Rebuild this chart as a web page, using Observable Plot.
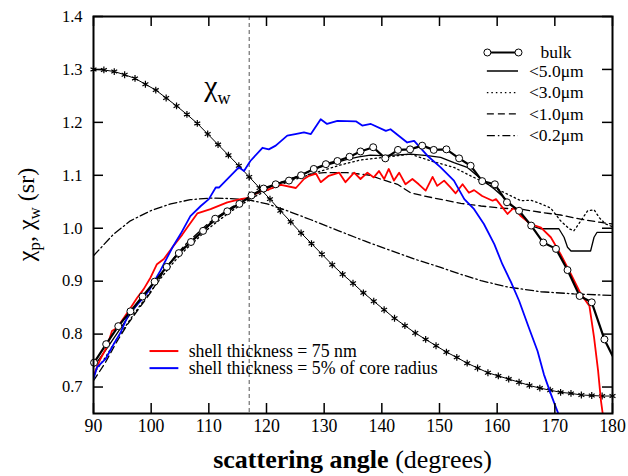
<!DOCTYPE html>
<html><head><meta charset="utf-8">
<script src="https://cdn.jsdelivr.net/npm/d3@7"></script>
<script src="https://cdn.jsdelivr.net/npm/@observablehq/plot@0.6"></script>
<style>
html,body{margin:0;padding:0;background:#fff;}
#chart{width:628px;height:476px;}
#chart svg, #chart svg text{font-family:"Liberation Serif","Times New Roman",serif !important;}
</style>
</head><body><div id="chart"></div>
<script>
// ---------- tick labels ----------
const xTicks = [90, 100, 110, 120, 130, 140, 150, 160, 170, 180];
const yTicks = [0.7, 0.8, 0.9, 1.0, 1.1, 1.2, 1.3, 1.4];

// ---------- chi_w (line with asterisks) ----------
const wAngles = [90,91.8,93.6,95.4,97.2,99,100.8,102.6,104.4,106.2,108,109.8,111.6,113.4,115.2,117,118.8,120.6,122.4,124.2,126,127.8,129.6,131.4,133.2,135,136.8,138.6,140.4,142.2,144,145.8,147.6,149.4,151.2,153,154.8,156.6,158.4,160.2,162,163.8,165.6,167.4,169.2,171,172.8,174.6,176.4,178.2,180];
const wValues = [1.300,1.299,1.296,1.290,1.283,1.272,1.261,1.246,1.231,1.215,1.198,1.178,1.158,1.138,1.118,1.097,1.076,1.055,1.033,1.012,0.991,0.971,0.951,0.931,0.913,0.896,0.878,0.862,0.846,0.830,0.816,0.802,0.790,0.778,0.766,0.756,0.745,0.736,0.727,0.721,0.715,0.709,0.703,0.698,0.694,0.690,0.688,0.685,0.684,0.683,0.683];

// ---------- bulk (thick line with open circles) ----------
const bulkAngles = [90.1,92.2,94.3,96.4,98.5,100.6,102.7,104.8,106.9,109,111.1,113.2,115.3,117.4,119.5,121.6,123.9,126,128.2,130.3,132.3,134.4,136.3,138.5,140.6,142.8,144.9,147,149,151.2,153.4,155.4,157.4,159.6,161.7,163.8,165.9,168,170.2,172.2,174.3,176.4,178.6];
const bulkValues = [0.746,0.781,0.815,0.843,0.871,0.899,0.927,0.953,0.974,0.995,1.018,1.032,1.046,1.062,1.075,1.083,1.090,1.100,1.112,1.121,1.127,1.135,1.145,1.153,1.132,1.148,1.149,1.156,1.148,1.149,1.132,1.118,1.089,1.083,1.049,1.033,1.005,0.973,0.961,0.921,0.872,0.860,0.790];
const bulkTailAngles = [178.6, 180];
const bulkTailValues = [0.790, 0.759];

// ---------- < 5.0 um (solid) ----------
const s5Angles = [90,92,94,96,98,100,102,104,106,108,110,112,114,116,118,120,122,124,126,128,130,132,134,136,138,140,142,145,147.9,150.2,152.5,154.8,157.2,159.5,161.8,164.1,165.8,167.6,170.7,171.6,172.2,172.8,176.2,176.8,177.3,180];
const s5Values = [0.738,0.768,0.800,0.832,0.862,0.890,0.918,0.944,0.966,0.986,1.005,1.022,1.038,1.051,1.064,1.075,1.084,1.093,1.101,1.110,1.118,1.124,1.130,1.135,1.138,1.137,1.138,1.140,1.137,1.134,1.124,1.115,1.093,1.074,1.052,1.027,1.005,0.999,0.999,0.983,0.964,0.957,0.957,0.983,0.992,0.992];

// ---------- < 3.0 um (dotted) ----------
const s3Angles = [90,92,94,96,98,100,102,104,106,108,110,112,114,116,118,120,122,124,126,128,130,133,136.3,140.4,145,148.5,152.5,155.4,157.7,160,162.4,164.1,165.8,167.6,169.3,171,172.5,173.3,174.5,175.7,176.8,177.7,178.8,180];
const s3Values = [0.725,0.755,0.790,0.822,0.853,0.882,0.910,0.937,0.960,0.980,1.000,1.017,1.033,1.047,1.060,1.071,1.080,1.089,1.096,1.103,1.110,1.120,1.129,1.134,1.140,1.127,1.115,1.099,1.087,1.074,1.061,1.052,1.053,1.046,1.038,1.014,0.999,0.995,1.014,1.033,1.035,1.020,1.008,1.003];

// ---------- < 1.0 um (dashed) ----------
const s1Angles = [90,92,94,96,98,100,102,104,106,108,110,112,114,116,118,120,122,124,126,130,134,138,140,142.7,145,147.3,150,153.7,157.2,160.6,164.1,167.6,171,174.5,178,180];
const s1Values = [0.712,0.745,0.785,0.820,0.850,0.880,0.915,0.945,0.970,0.990,1.010,1.025,1.040,1.052,1.063,1.075,1.085,1.093,1.100,1.105,1.105,1.100,1.092,1.083,1.067,1.061,1.055,1.047,1.042,1.038,1.036,1.030,1.025,1.017,1.011,1.008];

// ---------- < 0.2 um (dash-dot) ----------
const s02Angles = [90,93.5,96.4,99.9,103.4,106.8,110.3,113.8,116.7,120.1,123.6,127.7,132.3,137,141.5,145.6,150.2,153.7,157.2,161.8,167.6,173.3,180];
const s02Values = [0.948,0.989,1.014,1.033,1.046,1.054,1.057,1.056,1.054,1.046,1.033,1.016,0.996,0.976,0.958,0.942,0.926,0.913,0.901,0.889,0.880,0.876,0.873];

// ---------- shell thickness = 75 nm (red) ----------
const redAngles = [90,90.5,91.2,92.4,93.2,94.1,96.1,97.6,98.7,99.9,101,102.2,103.9,105.4,106.5,108,110.3,113.2,115.5,117.1,118.9,120.1,121,122.5,125.1,126.5,127.4,128.6,129.4,130.8,132.6,133.7,135.2,136.3,137.5,138.6,139.5,140.4,141.2,142.1,143,144.1,145.3,146.4,147.6,148.8,149.6,150.8,151.9,152.8,154,155.1,156,157.4,159.2,159.8,161.8,162.9,164.1,165.8,167.6,169.3,171,172.8,174.5,176,176.8,177.5,178,178.3];
const redValues = [0.720,0.735,0.753,0.778,0.806,0.812,0.844,0.869,0.885,0.907,0.932,0.942,0.967,0.988,1.005,1.028,1.036,1.049,1.055,1.058,1.071,1.072,1.076,1.082,1.076,1.093,1.099,1.103,1.087,1.099,1.105,1.087,1.105,1.093,1.105,1.096,1.108,1.093,1.112,1.090,1.105,1.083,1.093,1.083,1.071,1.097,1.080,1.090,1.077,1.066,1.083,1.067,1.072,1.061,1.052,1.055,1.027,1.039,1.023,1.008,1.001,0.983,0.951,0.913,0.876,0.853,0.794,0.731,0.674,0.650];

// ---------- shell thickness = 5% of core radius (blue) ----------
const blueAngles = [90,90.6,92.1,93.5,94.7,96.1,98.2,99.6,101.6,103.7,105.1,106.8,108.6,110,111.2,111.8,113.5,115.2,116.1,117.2,119.3,120.4,121.6,123.6,125,126.5,127.7,129.4,130.5,132.3,135.5,136.6,138.1,140.7,141.5,144.4,145.6,147.9,150.2,152.5,154.3,156,157.7,159.5,160.9,162.4,163.8,165.5,167,168.1,169.3,170.2,170.6];
const blueValues = [0.715,0.737,0.753,0.781,0.803,0.838,0.863,0.882,0.920,0.964,0.989,1.023,1.042,1.055,1.077,1.077,1.096,1.115,1.108,1.127,1.152,1.149,1.156,1.175,1.178,1.181,1.178,1.206,1.197,1.203,1.202,1.194,1.197,1.184,1.187,1.162,1.165,1.137,1.115,1.090,1.055,1.036,1.008,0.970,0.932,0.898,0.863,0.812,0.768,0.724,0.687,0.661,0.650];

// ---------- legend texts ----------
const legendNames = ["bulk", "<5.0\u03bcm", "<3.0\u03bcm", "<1.0\u03bcm", "<0.2\u03bcm"];
const shellNames = ["shell thickness = 75 nm", "shell thickness = 5% of core radius"];
const markerAngle = 117;

// ---------- build tables ----------
const zip = (a, v) => a.map((x, i) => ({a: x, v: v[i]}));
const wData = zip(wAngles, wValues);
const bulkData = zip(bulkAngles, bulkValues);
const bulkTail = zip(bulkTailAngles, bulkTailValues);
const s5 = zip(s5Angles, s5Values);
const s3 = zip(s3Angles, s3Values);
const s1 = zip(s1Angles, s1Values);
const s02 = zip(s02Angles, s02Values);
const red = zip(redAngles, redValues);
const blue = zip(blueAngles, blueValues);

// ---------- layout ----------
const W = 628, H = 476, mL = 93, mR = 16, mT = 16, mB = 63;
const fw = W - mL - mR, fh = H - mT - mB;
const TICK = 10;
const DOT = "1.5,3", DASH = "7,4", DASHDOT = "8,3,1.5,3";
const serif = "Liberation Serif";
// legend layout (data units)
const legX1 = 158.3, legX2 = 163.7, legTX = 165.5, legBulkTX = 167.5;
const legYs = [1.332, 1.297, 1.256, 1.216, 1.175];
const legStyles = [
  {stroke: "black", strokeWidth: 2.2},
  {stroke: "black", strokeWidth: 1.3},
  {stroke: "black", strokeWidth: 1.3, strokeDasharray: DOT},
  {stroke: "black", strokeWidth: 1.3, strokeDasharray: DASH},
  {stroke: "black", strokeWidth: 1.3, strokeDasharray: DASHDOT}
];
const shX1 = 99.8, shX2 = 104.8, shTX = 106.5;
const shYs = [0.768, 0.7357];
const shColors = ["#ff0000", "#0000ff"];

const legendMarks = legendNames.flatMap((name, i) => [
  Plot.ruleY([legYs[i]], {y: d => d, x1: legX1, x2: legX2, ...legStyles[i]}),
  Plot.text([name], {x: i === 0 ? legBulkTX : legTX, y: legYs[i], text: d => d, textAnchor: "start", fontSize: 17.5, fontFamily: serif, fill: "black"})
]);
legendMarks.push(Plot.dot([legX1, legX2], {x: d => d, y: legYs[0], r: 3.5, fill: "white", stroke: "black", strokeWidth: 1}));
const shellMarks = shellNames.flatMap((name, i) => [
  Plot.ruleY([shYs[i]], {y: d => d, x1: shX1, x2: shX2, stroke: shColors[i], strokeWidth: 2}),
  Plot.text([name], {x: shTX, y: shYs[i], text: d => d, textAnchor: "start", fontSize: 17.8, fontFamily: serif, fill: "black"})
]);

const plot = Plot.plot({
  width: W, height: H,
  marginLeft: mL, marginRight: mR, marginTop: mT, marginBottom: mB,
  style: {background: "white", color: "black"},
  x: {domain: [90, 180]},
  y: {domain: [0.65, 1.4]},
  marks: [
    Plot.ruleX([markerAngle], {x: d => d, stroke: "#555", strokeWidth: 1, strokeDasharray: "4,3"}),
    Plot.line(s02, {x: "a", y: "v", stroke: "black", strokeWidth: 1.3, strokeDasharray: DASHDOT, clip: true}),
    Plot.line(s1, {x: "a", y: "v", stroke: "black", strokeWidth: 1.3, strokeDasharray: DASH, clip: true}),
    Plot.line(s3, {x: "a", y: "v", stroke: "black", strokeWidth: 1.3, strokeDasharray: DOT, clip: true}),
    Plot.line(s5, {x: "a", y: "v", stroke: "black", strokeWidth: 1.3, clip: true}),
    Plot.line(wData, {x: "a", y: "v", stroke: "black", strokeWidth: 1, clip: true}),
    Plot.dot(wData, {x: "a", y: "v", symbol: "asterisk", r: 3.2, stroke: "black", strokeWidth: 1.2}),
    Plot.line(red, {x: "a", y: "v", stroke: "#ff0000", strokeWidth: 1.8, clip: true}),
    Plot.line(blue, {x: "a", y: "v", stroke: "#0000ff", strokeWidth: 1.8, clip: true}),
    Plot.line(bulkData, {x: "a", y: "v", stroke: "black", strokeWidth: 2.2, clip: true}),
    Plot.line(bulkTail, {x: "a", y: "v", stroke: "black", strokeWidth: 2.2, clip: true}),
    Plot.dot(bulkData, {x: "a", y: "v", r: 3.5, fill: "white", stroke: "black", strokeWidth: 1}),
    ...legendMarks,
    ...shellMarks,
    Plot.frame({stroke: "black", strokeWidth: 2}),
    Plot.tickX(xTicks, {x: d => d, insetTop: fh - TICK, stroke: "black", strokeWidth: 1.5}),
    Plot.tickX(xTicks, {x: d => d, insetBottom: fh - TICK, stroke: "black", strokeWidth: 1.5}),
    Plot.tickY(yTicks, {y: d => d, insetRight: fw - TICK, stroke: "black", strokeWidth: 1.5}),
    Plot.tickY(yTicks, {y: d => d, insetLeft: fw - TICK, stroke: "black", strokeWidth: 1.5}),
    Plot.axisX(xTicks, {tickSize: 0, tickPadding: 6, fontSize: 17.8, fontFamily: serif, label: null, fill: "black"}),
    Plot.axisY(yTicks, {tickSize: 0, tickPadding: 11, fontSize: 16.5, fontFamily: serif, tickFormat: d3.format(".1f"), label: null, fill: "black"})
  ]
});

document.getElementById("chart").appendChild(plot);

// ---------- annotations with subscripts ----------
const svg = d3.select(plot);
svg.attr("font-family", serif);
const xs = plot.scale("x"), ys = plot.scale("y");

// chi_w label in the plot
const chiW = svg.append("text").attr("font-family", serif).attr("fill", "black")
  .attr("text-anchor", "start")
  .attr("x", xs.apply(109.3)).attr("y", ys.apply(1.2483));
chiW.append("tspan").attr("font-size", 30).text("\u03c7");
chiW.append("tspan").attr("font-size", 18).attr("dy", 8).text("w");

// x axis title
const xt = svg.append("text").attr("font-family", serif).attr("fill", "black")
  .attr("font-size", 26).attr("text-anchor", "middle")
  .attr("x", mL + fw / 2).attr("y", 468);
xt.append("tspan").attr("font-weight", "bold").text("scattering angle");
xt.append("tspan").text(" (degrees)");

// y axis title
const yt = svg.append("text").attr("font-family", serif).attr("fill", "black")
  .attr("font-size", 24).attr("text-anchor", "middle")
  .attr("transform", `translate(34,${mT + fh / 2}) rotate(-90)`);
yt.append("tspan").text("\u03c7");
yt.append("tspan").attr("font-size", 17).attr("dy", 6).text("p");
yt.append("tspan").attr("dy", -6).text(", \u03c7");
yt.append("tspan").attr("font-size", 17).attr("dy", 6).text("w");
yt.append("tspan").attr("dy", -6).text(" (sr)");
</script>
</body></html>
